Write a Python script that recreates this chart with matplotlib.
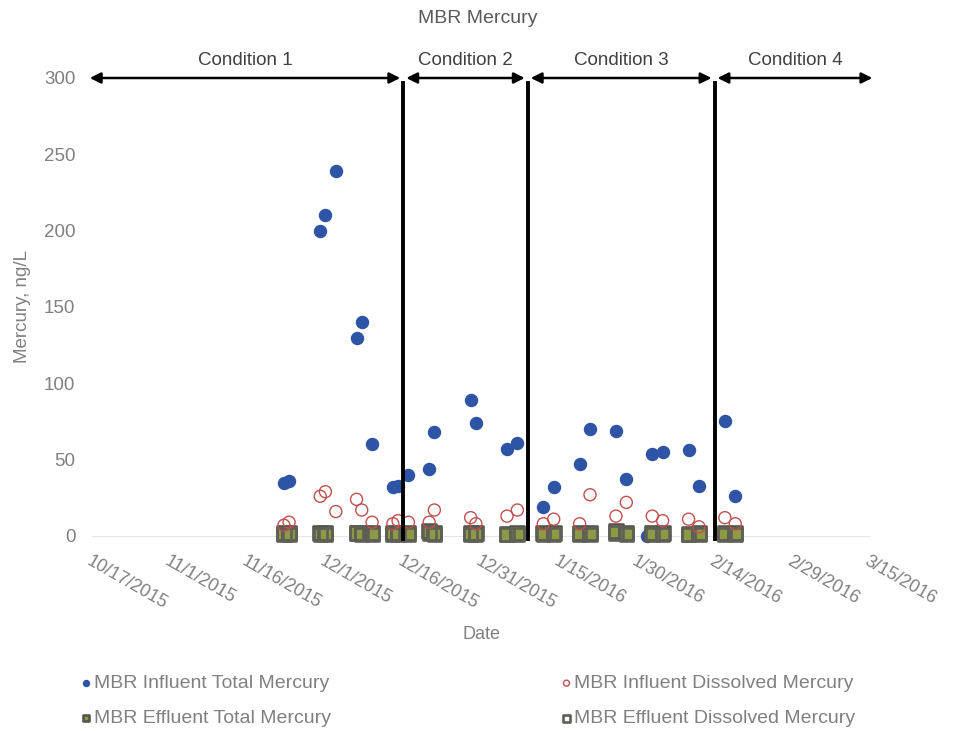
import matplotlib
matplotlib.use("Agg")
import matplotlib.pyplot as plt
import matplotlib.dates as mdates
import pandas as pd

plt.rcParams["font.family"] = ["Liberation Sans", "DejaVu Sans"]

# sample dates for the MBR influent series
influent_dates = pd.to_datetime([
    "2015-11-23", "2015-11-24", "2015-11-30", "2015-12-01", "2015-12-03",
    "2015-12-07", "2015-12-08", "2015-12-10", "2015-12-14", "2015-12-15",
    "2015-12-17", "2015-12-21", "2015-12-22", "2015-12-29", "2015-12-30",
    "2016-01-05", "2016-01-07", "2016-01-12", "2016-01-14", "2016-01-19",
    "2016-01-21", "2016-01-26", "2016-01-28", "2016-02-02", "2016-02-04",
    "2016-02-09", "2016-02-11", "2016-02-16", "2016-02-18",
])
influent_total = [35, 36, 200, 210, 239, 130, 140, 60, 32, 33,
                  40, 44, 68, 89, 74, 57, 61, 19, 32, 47,
                  70, 69, 37, 54, 55, 56, 33, 75, 26]
influent_dissolved = [7, 9, 26, 29, 16, 24, 17, 9, 8, 10,
                      9, 9, 17, 12, 8, 13, 17, 8, 11, 8,
                      27, 13, 22, 13, 10, 11, 6, 12, 8]

# one extra influent total result reported at zero
extra_date = pd.to_datetime(["2016-02-01"])
extra_total = [0]

effluent_dates = pd.to_datetime([
    "2015-11-23", "2015-11-24", "2015-11-30", "2015-12-01",
    "2015-12-07", "2015-12-08", "2015-12-10", "2015-12-14", "2015-12-15",
    "2015-12-17", "2015-12-21", "2015-12-22", "2015-12-29", "2015-12-30",
    "2016-01-05", "2016-01-07", "2016-01-12", "2016-01-14", "2016-01-19",
    "2016-01-21", "2016-01-26", "2016-01-28", "2016-02-02", "2016-02-04",
    "2016-02-09", "2016-02-11", "2016-02-16", "2016-02-18",
])
effluent_total = [2, 2, 2, 2, 2, 2, 2, 2, 2, 2, 3, 2, 2, 2,
                  1, 2, 2, 2, 2, 2, 3, 2, 2, 2, 1, 2, 2, 2]
effluent_dissolved = [1, 1, 1, 1, 2, 1, 1, 1, 1, 1, 2, 1, 1, 1,
                      1, 1, 1, 1, 1, 1, 2, 1, 1, 1, 1, 1, 1, 1]

conditions = ["Condition 1", "Condition 2", "Condition 3", "Condition 4"]
condition_edges = pd.to_datetime(["2015-10-16", "2015-12-16", "2016-01-09",
                                  "2016-02-14", "2016-03-16"])

tick_dates = pd.date_range("2015-10-17", "2016-03-15", freq="15D")

gray = "#808080"
fs = 14
fig = plt.figure(figsize=(9.56, 7.31), dpi=100)
ax = fig.add_axes([0.0962, 0.2668, 0.814, 0.6265])

ax.scatter(influent_dates, influent_total, s=75, color="#2e55a5", zorder=3,
           clip_on=False, label="MBR Influent Total Mercury")
ax.scatter(extra_date, extra_total, s=75, color="#2e55a5", zorder=3, clip_on=False)
ax.scatter(effluent_dates, effluent_total, s=90, marker="s", facecolor="#8c9a45",
           edgecolor="#55564c", linewidth=1.9, zorder=4, clip_on=False,
           label="MBR Effluent Total Mercury")
ax.scatter(influent_dates, influent_dissolved, s=75, facecolor="none",
           edgecolor="#c0504d", linewidth=1.0, zorder=5, clip_on=False,
           label="MBR Influent Dissolved Mercury")
ax.scatter(effluent_dates, effluent_dissolved, s=90, marker="s", facecolor="none",
           edgecolor="#5f5f58", linewidth=1.9, zorder=4, clip_on=False,
           label="MBR Effluent Dissolved Mercury")

# condition boundaries and span arrows
for d in condition_edges[1:-1]:
    ax.plot([d, d], [-2, 297], color="black", lw=2.8, zorder=6, clip_on=False)
for i, name in enumerate(conditions):
    a, b = condition_edges[i], condition_edges[i + 1]
    pad = pd.Timedelta(hours=14)
    ax.annotate("", xy=(b - pad, 300), xytext=(a + pad, 300),
                arrowprops=dict(arrowstyle="<|-|>", color="black", lw=1.8,
                                mutation_scale=16, shrinkA=0, shrinkB=0),
                annotation_clip=False)
    ax.text(a + (b - a) / 2, 306, name, ha="center", va="bottom",
            fontsize=fs - 0.5, color="#404040")

ax.set_xlim(tick_dates[0], tick_dates[-1])
ax.set_ylim(0, 300)
ax.set_yticks(range(0, 301, 50))
ax.set_xticks(tick_dates)
ax.xaxis.set_major_formatter(
    plt.FuncFormatter(lambda v, p: f"{mdates.num2date(v).month}/{mdates.num2date(v).day}/{mdates.num2date(v).year}"))
for lab in ax.get_xticklabels():
    lab.set_rotation(-30)
    lab.set_ha("left")
    lab.set_va("top")
    lab.set_rotation_mode("anchor")
ax.tick_params(axis="y", length=0, labelsize=fs - 0.5, colors=gray, pad=12)
ax.tick_params(axis="x", length=0, labelsize=fs - 1, colors=gray, pad=12)
for side in ["top", "right", "left"]:
    ax.spines[side].set_visible(False)
ax.spines["bottom"].set_color("#e6e6e6")

ax.set_xlabel("Date", fontsize=fs - 1, color=gray, labelpad=10)
ax.set_ylabel("Mercury, ng/L", fontsize=fs - 0.5, color=gray, labelpad=9)
fig.text(0.5, 0.986, "MBR Mercury", ha="center", va="top", fontsize=fs, color="#595959")

handles, labels = ax.get_legend_handles_labels()
fig.legend(handles, labels, ncol=2, loc="upper left", bbox_to_anchor=(0.066, 0.101),
           frameon=False, fontsize=fs, labelcolor=gray, markerscale=0.5,
           handletextpad=0.1, handlelength=0.6, columnspacing=11.8, labelspacing=0.9)

fig.savefig("out.png", dpi=100)
